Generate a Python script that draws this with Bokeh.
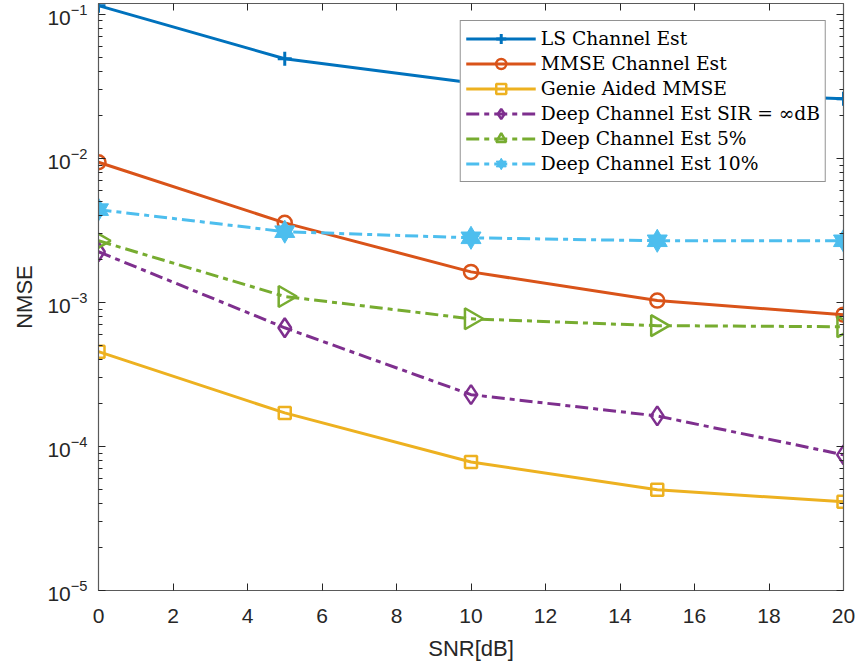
import numpy as np
from bokeh.plotting import figure
from bokeh.models import (Range1d, FixedTicker, LinearAxis, LogAxis,
                          Legend, LegendItem)
from bokeh.embed import file_html
from bokeh.resources import INLINE

# ---------------- data ----------------
snr = [0, 5, 10, 15, 20]
ls_est = [0.115, 0.0492, 0.0335, 0.029, 0.026]
mmse_est = [0.0094, 0.00357, 0.00163, 0.00103, 0.000822]
genie_mmse = [0.000455, 0.000171, 0.000078, 0.000050, 0.0000413]
deep_inf = [0.00225, 0.000667, 0.000229, 0.000163, 0.0000875]
deep_5 = [0.00268, 0.0011, 0.00077, 0.00069, 0.000678]
deep_10 = [0.00441, 0.0031, 0.00281, 0.00268, 0.00268]

series_labels = ["LS Channel Est", "MMSE Channel Est", "Genie Aided MMSE",
                 "Deep Channel Est SIR = \u221edB", "Deep Channel Est 5%",
                 "Deep Channel Est 10%"]

x_ticks = [0, 2, 4, 6, 8, 10, 12, 14, 16, 18, 20]
y_ticks = [1e-5, 1e-4, 1e-3, 1e-2, 1e-1]
y_minor = [m * d for d in y_ticks for m in range(2, 10)]

colors = ["#0072BD", "#D95319", "#EDB120", "#7E2F8E", "#77AC30", "#4DBEEE"]

AXIS_COLOR = "#5a5a5a"
TEXT_COLOR = "#262626"
SANS = "Liberation Sans"

p = figure(width=859, height=670, y_axis_type="log",
           x_range=Range1d(0, 20), y_range=Range1d(1e-5, 0.119),
           output_backend="svg", toolbar_location=None,
           min_border_left=98, min_border_right=16,
           min_border_top=3, min_border_bottom=80)
p.xgrid.visible = False
p.ygrid.visible = False
p.outline_line_color = None
p.background_fill_color = "white"
p.border_fill_color = "white"

p.xaxis.ticker = FixedTicker(ticks=x_ticks)
p.yaxis.ticker = FixedTicker(ticks=y_ticks, minor_ticks=y_minor)


def style_axis(ax, minor=True):
    ax.axis_line_color = AXIS_COLOR
    ax.axis_line_width = 1.2
    ax.major_tick_line_color = TEXT_COLOR
    ax.minor_tick_line_color = TEXT_COLOR
    ax.major_tick_in = 7
    ax.major_tick_out = 0
    ax.minor_tick_in = 4 if minor else 0
    ax.minor_tick_out = 0
    ax.major_label_text_font = SANS
    ax.major_label_text_font_size = "21px"
    ax.major_label_text_color = TEXT_COLOR
    ax.axis_label_text_font = SANS
    ax.axis_label_text_font_size = "22px"
    ax.axis_label_text_font_style = "normal"
    ax.axis_label_text_color = TEXT_COLOR


for ax in p.xaxis:
    style_axis(ax, minor=False)
    ax.axis_label = "SNR[dB]"
    ax.major_label_standoff = 18
    ax.axis_label_standoff = 10
for ax in p.yaxis:
    style_axis(ax)
    ax.axis_label = "NMSE"
    ax.major_label_standoff = 11
    ax.axis_label_standoff = 7

top_ax = LinearAxis(ticker=FixedTicker(ticks=x_ticks))
style_axis(top_ax, minor=False)
top_ax.major_label_overrides = {t: "" for t in x_ticks}
top_ax.major_label_standoff = 0
p.add_layout(top_ax, "above")

right_ax = LogAxis(ticker=FixedTicker(ticks=y_ticks, minor_ticks=y_minor))
style_axis(right_ax)
right_ax.major_label_overrides = {t: "" for t in y_ticks}
right_ax.major_label_standoff = 0
p.add_layout(right_ax, "right")

LW = 3
items = []

# LS
r1 = p.line(snr, ls_est, line_color=colors[0], line_width=LW)
m1 = p.scatter(snr, ls_est, marker="cross", size=14, line_color=colors[0],
               line_width=3)
items.append(LegendItem(label=series_labels[0], renderers=[r1, m1]))

# MMSE
r2 = p.line(snr, mmse_est, line_color=colors[1], line_width=LW)
m2 = p.scatter(snr, mmse_est, marker="circle", size=14, fill_color=None,
               line_color=colors[1], line_width=2.5)
items.append(LegendItem(label=series_labels[1], renderers=[r2, m2]))

# Genie
r3 = p.line(snr, genie_mmse, line_color=colors[2], line_width=LW)
m3 = p.scatter(snr, genie_mmse, marker="square", size=12, fill_color=None,
               line_color=colors[2], line_width=2.5)
items.append(LegendItem(label=series_labels[2], renderers=[r3, m3]))

DASHDOT = "13 5 5 5"
# Deep inf
r4 = p.line(snr, deep_inf, line_color=colors[3], line_width=LW,
            line_dash=DASHDOT)
m4 = p.scatter(snr, deep_inf, marker="diamond", size=19,
               fill_color=None, line_color=colors[3], line_width=2.5)
items.append(LegendItem(label=series_labels[3], renderers=[r4, m4]))

# Deep 5%
r5 = p.line(snr, deep_5, line_color=colors[4], line_width=LW,
            line_dash=DASHDOT)
m5 = p.scatter(snr, deep_5, marker="triangle", angle=-np.pi / 2, size=21,
               fill_color=None, line_color=colors[4], line_width=2.5)
items.append(LegendItem(label=series_labels[4], renderers=[r5, m5]))

# Deep 10% (hexagram made of two triangles)
r6 = p.line(snr, deep_10, line_color=colors[5], line_width=LW,
            line_dash=DASHDOT)
m6a = p.scatter(snr, deep_10, marker="triangle", size=20,
                fill_color=colors[5], line_color=colors[5], line_width=1)
m6b = p.scatter(snr, deep_10, marker="inverted_triangle", size=20,
                fill_color=colors[5], line_color=colors[5], line_width=1)
items.append(LegendItem(label=series_labels[5], renderers=[r6, m6a, m6b]))

legend = Legend(items=items, location="top_right")
legend.margin = 17
legend.padding = 5
legend.spacing = 0
legend.glyph_width = 70
legend.glyph_height = 25
legend.label_height = 25
legend.label_standoff = 5
legend.label_text_font = "DejaVu Serif"
legend.label_text_font_size = "18.7px"
legend.label_text_color = "black"
legend.border_line_color = TEXT_COLOR
legend.border_line_width = 1
legend.background_fill_color = "white"
legend.background_fill_alpha = 1
p.add_layout(legend)

open("out.html", "w").write(file_html(p, INLINE))
